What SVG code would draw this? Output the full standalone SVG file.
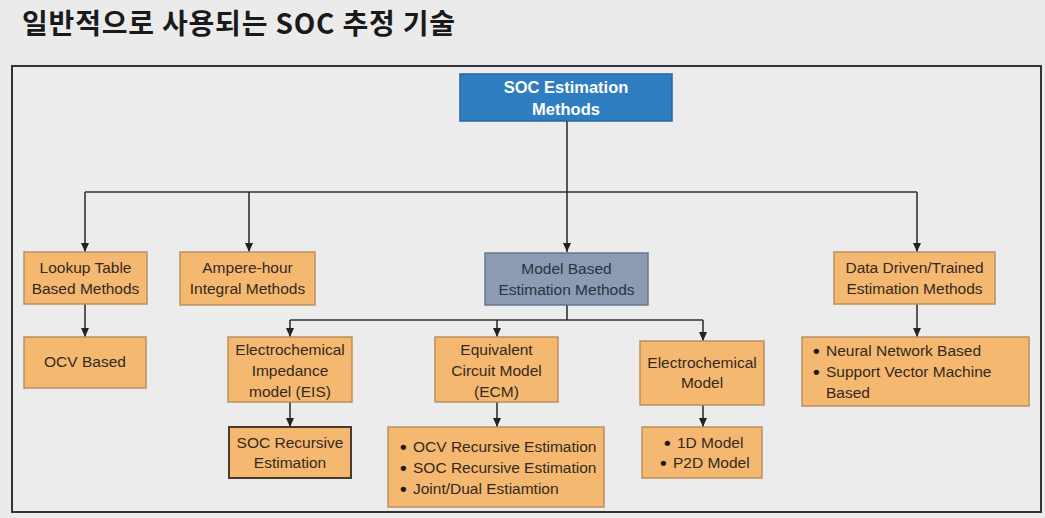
<svg xmlns="http://www.w3.org/2000/svg" width="1045" height="518" viewBox="0 0 1045 518">
<style>
.t{font-family:"Liberation Sans",Arial,sans-serif;font-size:15.5px;fill:#35291e;text-anchor:middle}
.l{font-family:"Liberation Sans",Arial,sans-serif;font-size:15.5px;fill:#35291e}
.b{font-family:"Liberation Sans",Arial,sans-serif;font-size:19px;font-weight:bold;fill:#1a1a1a}
.or{fill:#f4b870;stroke:#b8915f;stroke-width:1.5}
.cn{stroke:#333;stroke-width:1.6;fill:none}
</style>
<defs>
<marker id="ah" markerWidth="9" markerHeight="8" refX="9" refY="4" orient="auto" markerUnits="userSpaceOnUse">
<path d="M0,0 L9,4 L0,8 z" fill="#222"/>
</marker>
</defs>
<rect x="0" y="0" width="1045" height="518" fill="#ebebeb"/>
<text x="22" y="34" font-family="'Noto Sans CJK KR','Noto Sans',sans-serif" font-size="28" font-weight="bold" fill="#1a1a1a" textLength="433" lengthAdjust="spacing">일반적으로 사용되는 SOC 추정 기술</text>
<rect id="frame" x="12" y="66" width="1029" height="446" fill="#ececec" stroke="#333" stroke-width="2"/>

<g id="connectors">
<path class="cn" d="M567,121 V252" marker-end="url(#ah)"/>
<path class="cn" d="M85,192 H917"/>
<path class="cn" d="M85,192 V252" marker-end="url(#ah)"/>
<path class="cn" d="M249,192 V252" marker-end="url(#ah)"/>
<path class="cn" d="M917,192 V252" marker-end="url(#ah)"/>
<path class="cn" d="M85,304 V337" marker-end="url(#ah)"/>
<path class="cn" d="M567,305 V320"/>
<path class="cn" d="M290,320 H703"/>
<path class="cn" d="M290,320 V337" marker-end="url(#ah)"/>
<path class="cn" d="M497,320 V337" marker-end="url(#ah)"/>
<path class="cn" d="M703,320 V341" marker-end="url(#ah)"/>
<path class="cn" d="M917,304 V337" marker-end="url(#ah)"/>
<path class="cn" d="M290,402 V427" marker-end="url(#ah)"/>
<path class="cn" d="M497,402 V427" marker-end="url(#ah)"/>
<path class="cn" d="M703,405 V427" marker-end="url(#ah)"/>
</g>

<g id="root">
<rect x="460" y="74" width="212" height="47" fill="#2e7dc0" stroke="#2766a0" stroke-width="1.5"/>
<text x="566" y="93" font-family="'Liberation Sans',Arial,sans-serif" font-size="16.5" font-weight="bold" fill="#fff" text-anchor="middle">SOC Estimation</text>
<text x="566" y="115" font-family="'Liberation Sans',Arial,sans-serif" font-size="16.5" font-weight="bold" fill="#fff" text-anchor="middle">Methods</text>
</g>

<g id="lookup">
<rect class="or" x="24" y="252" width="123" height="52"/>
<text class="t" x="85.5" y="273">Lookup Table</text>
<text class="t" x="85.5" y="294">Based Methods</text>
</g>

<g id="ampere">
<rect class="or" x="180" y="252" width="135" height="53"/>
<text class="t" x="247.5" y="273">Ampere-hour</text>
<text class="t" x="247.5" y="294">Integral Methods</text>
</g>

<g id="model">
<rect x="485" y="253" width="163" height="52" fill="#8a9bb2" stroke="#66778c" stroke-width="1.5"/>
<text class="t" x="566.5" y="274" style="fill:#2a3340">Model Based</text>
<text class="t" x="566.5" y="295" style="fill:#2a3340">Estimation Methods</text>
</g>

<g id="datadriven">
<rect class="or" x="834" y="252" width="161" height="52"/>
<text class="t" x="914.5" y="273">Data Driven/Trained</text>
<text class="t" x="914.5" y="294">Estimation Methods</text>
</g>

<g id="ocv">
<rect class="or" x="24" y="337" width="122" height="51"/>
<text class="t" x="85" y="367">OCV Based</text>
</g>

<g id="eis">
<rect class="or" x="228" y="337" width="124" height="65"/>
<text class="t" x="290" y="355">Electrochemical</text>
<text class="t" x="290" y="376">Impedance</text>
<text class="t" x="290" y="397">model (EIS)</text>
</g>

<g id="ecm">
<rect class="or" x="435" y="337" width="123" height="65"/>
<text class="t" x="496.5" y="355">Equivalent</text>
<text class="t" x="496.5" y="376">Circuit Model</text>
<text class="t" x="496.5" y="397">(ECM)</text>
</g>

<g id="echem">
<rect class="or" x="640" y="341" width="124" height="64"/>
<text class="t" x="702" y="368">Electrochemical</text>
<text class="t" x="702" y="388">Model</text>
</g>

<g id="nn">
<rect class="or" x="802" y="337" width="227" height="69"/>
<text class="b" x="813" y="357">•</text><text class="l" x="826" y="356">Neural Network Based</text>
<text class="b" x="813" y="378">•</text><text class="l" x="826" y="377">Support Vector Machine</text>
<text class="l" x="826" y="398">Based</text>
</g>

<g id="socrec">
<rect x="229" y="427" width="122" height="51" fill="#f4b870" stroke="#4a3a2c" stroke-width="2"/>
<text class="t" x="290" y="448">SOC Recursive</text>
<text class="t" x="290" y="468">Estimation</text>
</g>

<g id="ecmlist">
<rect class="or" x="388" y="427" width="216" height="80"/>
<text class="b" x="400" y="453">•</text><text class="l" x="413" y="452">OCV Recursive Estimation</text>
<text class="b" x="400" y="474">•</text><text class="l" x="413" y="473">SOC Recursive Estimation</text>
<text class="b" x="400" y="495">•</text><text class="l" x="413" y="494">Joint/Dual Estiamtion</text>
</g>

<g id="emlist">
<rect class="or" x="642" y="427" width="120" height="51"/>
<text class="b" x="664" y="449">•</text><text class="l" x="677" y="448">1D Model</text>
<text class="b" x="660" y="469">•</text><text class="l" x="673" y="468">P2D Model</text>
</g>
</svg>
